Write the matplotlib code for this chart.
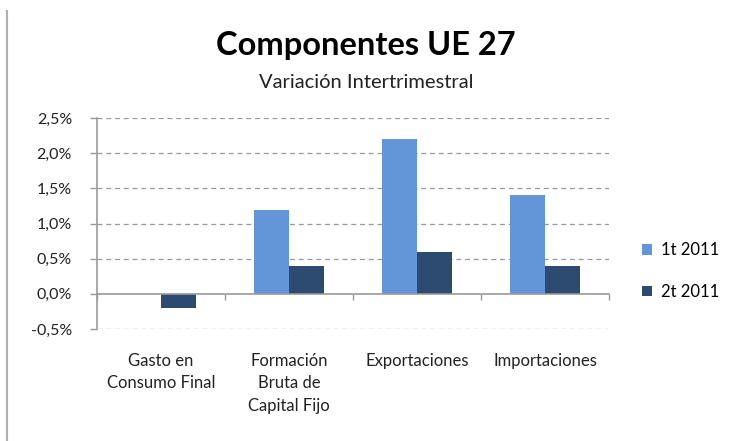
import numpy as np
from matplotlib import pyplot as plt
from matplotlib.ticker import FuncFormatter

categories = ['Gasto en\nConsumo Final', 'Formación\nBruta de\nCapital Fijo',
              'Exportaciones', 'Importaciones']
series_labels = ['1t 2011', '2t 2011']
q1_values = [0.0, 1.2, 2.2, 1.4]
q2_values = [-0.2, 0.4, 0.6, 0.4]
y_ticks = [-0.5, 0.0, 0.5, 1.0, 1.5, 2.0, 2.5]

plt.rcParams['font.family'] = ['Lato', 'DejaVu Sans']

fig = plt.figure(figsize=(7.32, 4.41), dpi=100)
ax = fig.add_axes([0.1325, 0.254, 0.7, 0.478])

x = np.arange(len(categories))
width = 0.273
ax.bar(x - width / 2, q1_values, width, color='#6396d8', label=series_labels[0])
ax.bar(x + width / 2, q2_values, width, color='#2d4a70', label=series_labels[1])

ax.set_xlim(-0.5, len(categories) - 0.5)
ax.set_ylim(-0.5, 2.5)
ax.set_yticks(y_ticks)
ax.yaxis.set_major_formatter(FuncFormatter(lambda v, p: f'{v:.1f}%'.replace('.', ',')))
ax.tick_params(axis='y', length=5, width=1, color='#9a9a9a', labelsize=11.5,
               labelcolor='#222222', pad=13)
for v in y_ticks:
    if v != 0:
        ax.axhline(v, color='#9a9a9a', lw=0.9, ls=(0, (4, 3)), zorder=0)

for side in ['top', 'right']:
    ax.spines[side].set_visible(False)
ax.spines['left'].set_color('#9a9a9a')
ax.spines['left'].set_linewidth(1.2)
ax.spines['bottom'].set_position(('data', 0))
ax.spines['bottom'].set_color('#9a9a9a')
ax.spines['bottom'].set_linewidth(1.2)
ax.set_xticks(np.arange(len(categories) + 1) - 0.5)
ax.set_xticklabels([])
ax.tick_params(axis='x', length=4, width=1, color='#9a9a9a', direction='out')

sec = ax.secondary_xaxis(location=-0.09)
sec.set_xticks(x)
sec.set_xticklabels(categories, fontsize=12, color='#222222', va='top',
                    linespacing=1.5)
sec.tick_params(length=0)
sec.spines['bottom'].set_visible(False)

fig.text(0.5, 0.897, 'Componentes UE 27', ha='center', va='center',
         fontsize=23.5, fontweight='bold')
fig.text(0.5, 0.812, 'Variación Intertrimestral', ha='center', va='center',
         fontsize=14.5, color='#222222')

ax.legend(loc='center left', bbox_to_anchor=(1.035, 0.275), frameon=False,
          fontsize=12, handlelength=0.6, handleheight=0.6, labelspacing=1.55,
          handletextpad=0.5)

fig.add_artist(plt.Line2D([0.0096, 0.0096], [0, 0.975], color='#b0b0b0', lw=1.5))

fig.savefig('out.png', dpi=100, facecolor='white')
